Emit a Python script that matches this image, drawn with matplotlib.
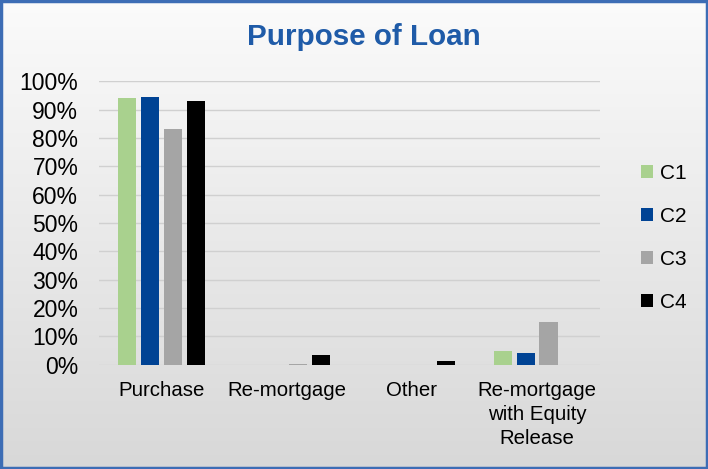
import numpy as np
import matplotlib
matplotlib.use('Agg')
import matplotlib.pyplot as plt
from matplotlib.patches import Rectangle
from matplotlib.ticker import PercentFormatter

plt.rcParams['font.family'] = ['Liberation Sans', 'DejaVu Sans']

categories = ['Purchase', 'Re-mortgage', 'Other', 'Re-mortgage\nwith Equity\nRelease']
series_names = ['C1', 'C2', 'C3', 'C4']
c1 = [0.941, 0.0, 0.0, 0.046]
c2 = [0.946, 0.0, 0.0, 0.040]
c3 = [0.832, 0.002, 0.0, 0.150]
c4 = [0.931, 0.032, 0.011, 0.0]
colors = ['#a9d18e', '#004394', '#a5a5a5', '#000000']

fig = plt.figure(figsize=(7.08, 4.69), dpi=100)

# background gradient
bg = fig.add_axes([0, 0, 1, 1])
grad = np.linspace(0, 1, 256).reshape(-1, 1)
bg.imshow(grad, aspect='auto', cmap=matplotlib.colors.LinearSegmentedColormap.from_list(
    'g', ['#fbfbfb', '#d8d8d8']), extent=[0, 1, 0, 1], origin='upper')
bg.set_axis_off()
fig.patches.append(Rectangle((0.001, 0.002), 0.997, 0.995, transform=fig.transFigure,
                             fill=False, edgecolor='#3d6db5', linewidth=2.5))

ax = fig.add_axes([0.140, 0.2228, 0.707, 0.604])
ax.patch.set_alpha(0)
x = np.arange(len(categories))
slot = 0.183
width = 0.145
for i, (vals, name) in enumerate(zip([c1, c2, c3, c4], series_names)):
    ax.bar(x + (i - 1.5) * slot, vals, width, color=colors[i], label=name, zorder=3)

ax.set_xlim(-0.5, 3.5)
ax.set_ylim(0, 1.0)
ax.set_yticks(np.arange(0, 1.01, 0.1))
ax.yaxis.set_major_formatter(PercentFormatter(1.0, decimals=0))
ax.set_xticks(x)
ax.set_xticklabels(categories, fontsize=14.7, linespacing=1.34)
ax.tick_params(axis='y', labelsize=16.5, length=0, pad=15)
ax.tick_params(axis='x', length=0, pad=12)
ax.grid(axis='y', color='#d0d0d0', linewidth=1, zorder=0)
for s in ax.spines.values():
    s.set_visible(False)

fig.text(0.514, 0.922, 'Purpose of Loan', ha='center', va='center',
         fontsize=21.3, fontweight='bold', color='#1f5ba8')

ax.legend(loc='center left', bbox_to_anchor=(1.045, 0.447), frameon=False,
          fontsize=15, handlelength=0.6, handleheight=0.6, handletextpad=0.3,
          labelspacing=1.15)

fig.savefig('out.png', dpi=100)
